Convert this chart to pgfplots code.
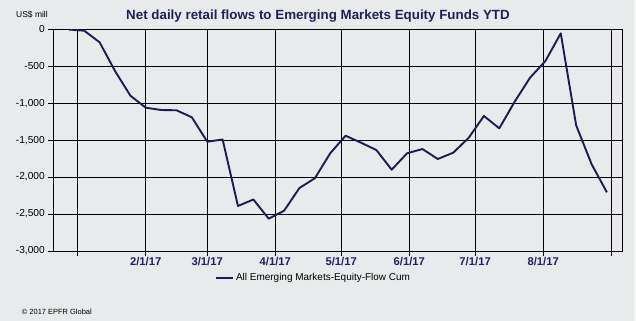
\documentclass[border=0pt]{standalone}
\usepackage{pgfplots}
\pgfplotsset{compat=1.18}
\usepackage{fontspec}
\setmainfont{Liberation Sans}
\definecolor{bgcol}{RGB}{233,234,235}
\definecolor{titlecol}{RGB}{30,32,96}
\definecolor{linecol}{RGB}{28,28,90}
\definecolor{xlabcol}{RGB}{32,32,112}
\begin{document}
\begin{tikzpicture}
\fill[bgcol] (-53.3bp,-70bp) rectangle (582.7bp,251bp);
\fill[white!60!bgcol] (580.7bp,-70bp) rectangle (582.7bp,251bp);
\begin{axis}[
  at={(0,0)}, anchor=south west,
  scale only axis, width=569.4bp, height=221.7bp,
  xmin=-11.1, xmax=248.2, ymin=-3000, ymax=0,
  xtick={0,31,59,90,120,151,181,212,243},
  xticklabels={,2/1/17,3/1/17,4/1/17,5/1/17,6/1/17,7/1/17,8/1/17,},
  ytick={-3000,-2500,-2000,-1500,-1000,-500,0},
  grid=major,
  major grid style={black, line width=0.9bp},
  axis line style={black, line width=0.9bp},
  tick style={black, line width=0.9bp},
  tick align=outside, major tick length=5bp,
  xtick pos=bottom, ytick pos=left,
  /pgf/number format/assume math mode=true,
  /pgf/number format/.cd, 1000 sep={,}, /pgfplots/.cd,
  yticklabel style={font=\fontsize{10.2}{12}\selectfont, text=black},
  xticklabel style={font=\fontsize{11.3}{13}\selectfont\bfseries, text=xlabcol, yshift=2.5bp},
  legend style={draw=none, fill=none, at={(axis description cs:0.284,-0.1218)}, anchor=west,
    font=\fontsize{10}{12}\selectfont, inner sep=0pt},
  legend image code/.code={\draw[#1] (0bp,0bp) -- (17bp,0bp);},
]
\addplot[linecol, line width=1.9bp, line join=round] coordinates {
(-4,-3) (3,-19) (10,-176) (17,-564) (24,-898) (31,-1061) (38,-1092) (45,-1096)
(52,-1191) (59,-1521) (66,-1491) (73,-2391) (80,-2303) (87,-2563) (94,-2455)
(101,-2147) (108,-2016) (115,-1678) (122,-1440) (129,-1534) (136,-1633)
(143,-1900) (150,-1678) (157,-1620) (164,-1755) (171,-1670) (178,-1471)
(185,-1173) (192,-1340) (199,-980) (206,-655) (213,-429) (220,-54)
(227,-1299) (234,-1823) (241,-2206)
};
\addlegendentry{All Emerging Markets-Equity-Flow Cum}
\end{axis}
\node[text=titlecol, font=\fontsize{13.4}{15}\selectfont\bfseries] at (264.7bp,235bp) {Net daily retail flows to Emerging Markets Equity Funds YTD};
\node[anchor=west, font=\fontsize{8.5}{10}\selectfont, inner sep=0pt] at (-37.3bp,236bp) {US\$ mill};
\node[anchor=west, font=\fontsize{7.5}{9}\selectfont, inner sep=0pt] at (-31.6bp,-61.3bp) {© 2017 EPFR Global};
\end{tikzpicture}
\end{document}
